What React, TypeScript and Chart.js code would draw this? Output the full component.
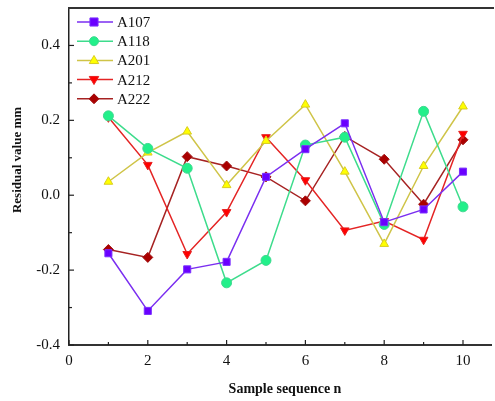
import React, { useEffect, useRef } from "react";
import { Chart, registerables } from "chart.js";

Chart.register(...registerables);

const samples = [1, 2, 3, 4, 5, 6, 7, 8, 9, 10];
const a107 = [-0.155, -0.309, -0.198, -0.178, 0.049, 0.123, 0.192, -0.072, -0.038, 0.063];
const a118 = [0.212, 0.125, 0.072, -0.234, -0.174, 0.134, 0.155, -0.078, 0.224, -0.031];
const a201 = [0.036, 0.114, 0.17, 0.027, 0.145, 0.242, 0.063, -0.13, 0.078, 0.237];
const a212 = [0.208, 0.081, -0.157, -0.045, 0.155, 0.04, -0.094, -0.069, -0.119, 0.164];
const a222 = [-0.145, -0.166, 0.103, 0.078, 0.049, -0.015, 0.157, 0.096, -0.024, 0.148];
const seriesNames = ["A107", "A118", "A201", "A212", "A222"];
const yTicks = [-0.4, -0.2, 0, 0.2, 0.4];
const yMinor = [-0.3, -0.1, 0.1, 0.3];
const xTicks = [0, 2, 4, 6, 8, 10];
const xMinor = [1, 3, 5, 7, 9];

const styles = [
  { line: "#7a2ef0", fill: "#6a00ff", border: "#7a30ff", shape: "rect", rot: 0 },
  { line: "#3ddc8c", fill: "#22f08a", border: "#40d890", shape: "circle", rot: 0 },
  { line: "#cfc448", fill: "#ffff00", border: "#d8cc20", shape: "triangle", rot: 0 },
  { line: "#e42424", fill: "#ff0000", border: "#e82020", shape: "triangle", rot: 180 },
  { line: "#a62222", fill: "#aa0000", border: "#a01010", shape: "rectRot", rot: 0 },
];

const serif = '"Liberation Serif", "Times New Roman", serif';

function drawMarker(ctx: CanvasRenderingContext2D, shape: string, rot: number, x: number, y: number, r: number, fill: string, stroke: string) {
  ctx.save();
  ctx.translate(x, y);
  ctx.rotate((rot * Math.PI) / 180);
  ctx.beginPath();
  if (shape === "rect") {
    ctx.rect(-r * 0.9, -r * 0.9, r * 1.8, r * 1.8);
  } else if (shape === "circle") {
    ctx.arc(0, 0, r, 0, Math.PI * 2);
  } else if (shape === "triangle") {
    ctx.moveTo(0, -r * 1.1);
    ctx.lineTo(r * 1.05, r * 0.7);
    ctx.lineTo(-r * 1.05, r * 0.7);
    ctx.closePath();
  } else if (shape === "rectRot") {
    ctx.moveTo(0, -r * 1.1);
    ctx.lineTo(r * 1.1, 0);
    ctx.lineTo(0, r * 1.1);
    ctx.lineTo(-r * 1.1, 0);
    ctx.closePath();
  }
  ctx.fillStyle = fill;
  ctx.fill();
  ctx.strokeStyle = stroke;
  ctx.lineWidth = 1;
  ctx.stroke();
  ctx.restore();
}

const decorPlugin = {
  id: "decor",
  afterDraw(chart: any) {
    const ctx: CanvasRenderingContext2D = chart.ctx;
    const xs = chart.scales.x;
    const ys = chart.scales.y;
    const area = chart.chartArea;
    const W = chart.width;
    ctx.save();
    // top border and bottom axis extended to the canvas edge
    ctx.fillStyle = "#333";
    ctx.fillRect(Math.round(area.left) - 1, Math.round(area.top) - 1, W - Math.round(area.left), 2);
    ctx.fillRect(Math.round(area.left) - 1, Math.round(area.bottom) - 1, W - 2 - Math.round(area.left), 2);
    // ticks
    ctx.strokeStyle = "#222";
    ctx.lineWidth = 1.2;
    const tick = (x1: number, y1: number, x2: number, y2: number) => {
      ctx.beginPath();
      ctx.moveTo(x1, y1);
      ctx.lineTo(x2, y2);
      ctx.stroke();
    };
    xTicks.forEach((v) => { const p = xs.getPixelForValue(v); tick(p, area.bottom, p, area.bottom - 5); });
    xMinor.forEach((v) => { const p = xs.getPixelForValue(v); tick(p, area.bottom, p, area.bottom - 3); });
    yTicks.forEach((v) => { const p = ys.getPixelForValue(v); tick(area.left, p, area.left + 5, p); });
    yMinor.forEach((v) => { const p = ys.getPixelForValue(v); tick(area.left, p, area.left + 3, p); });

    // legend
    chart.data.datasets.forEach((ds: any, i: number) => {
      const st = styles[i];
      const y = 22 + i * 19.2;
      ctx.strokeStyle = st.line;
      ctx.lineWidth = 1.5;
      ctx.beginPath();
      ctx.moveTo(77, y);
      ctx.lineTo(113, y);
      ctx.stroke();
      drawMarker(ctx, st.shape, st.rot, 94, y, 4.5, st.fill, st.border);
      ctx.fillStyle = "#111";
      ctx.font = `15px ${serif}`;
      ctx.textAlign = "left";
      ctx.textBaseline = "middle";
      ctx.fillText(ds.label, 117, y + 1);
    });

    // axis titles
    ctx.fillStyle = "#111";
    ctx.font = `bold 14px ${serif}`;
    ctx.textAlign = "center";
    ctx.textBaseline = "middle";
    ctx.fillText("Sample sequence n", 285, 389);
    ctx.save();
    ctx.translate(18, 160);
    ctx.rotate(-Math.PI / 2);
    ctx.font = `bold 13px ${serif}`;
    ctx.fillText("Residual value mm", 0, 0);
    ctx.restore();
    ctx.restore();
  },
};

export default function App() {
  const ref = useRef<HTMLCanvasElement | null>(null);
  useEffect(() => {
    if (!ref.current) return;
    const all = [a107, a118, a201, a212, a222];
    const chart = new Chart(ref.current, {
      type: "line",
      data: {
        datasets: all.map((vals, i) => ({
          label: seriesNames[i],
          data: samples.map((s, j) => ({ x: s, y: vals[j] })),
          borderColor: styles[i].line,
          borderWidth: 1.5,
          backgroundColor: styles[i].fill,
          pointBackgroundColor: styles[i].fill,
          pointBorderColor: styles[i].border,
          pointBorderWidth: 1,
          pointStyle: styles[i].shape as any,
          pointRotation: styles[i].rot,
          pointRadius: 5,
          tension: 0,
          fill: false,
        })),
      },
      options: {
        animation: false,
        responsive: false,
        layout: { padding: { top: 8, right: 1, left: 0, bottom: 0 } },
        plugins: { legend: { display: false }, tooltip: { enabled: false } },
        scales: {
          x: {
            type: "linear",
            min: 0,
            max: 10.66,
            afterBuildTicks: (s: any) => { s.ticks = xTicks.map((v) => ({ value: v })); },
            afterFit: (s: any) => { s.height = 56; s.paddingRight = 0; s.paddingLeft = 0; },
            grid: { display: false, drawTicks: false },
            border: { display: true, color: "#222", width: 1.5 },
            ticks: {
              color: "#111",
              font: { family: serif, size: 15 },
              padding: 7,
              maxRotation: 0,
              autoSkip: false,
              callback: (v: any) => String(v),
            },
          },
          xTop: {
            type: "linear",
            position: "top",
            display: true,
            min: 0,
            max: 10.66,
            afterFit: (s: any) => { s.height = 0; s.paddingRight = 0; s.paddingLeft = 0; },
            grid: { display: false, drawTicks: false },
            border: { display: true, color: "#333", width: 2 },
            ticks: { display: false },
          },
          y: {
            type: "linear",
            min: -0.4,
            max: 0.5,
            afterBuildTicks: (s: any) => { s.ticks = yTicks.map((v) => ({ value: v })); },
            afterFit: (s: any) => { s.width = 69; s.paddingTop = 0; s.paddingBottom = 0; },
            grid: { display: false, drawTicks: false },
            border: { display: true, color: "#222", width: 1.5 },
            ticks: {
              color: "#111",
              font: { family: serif, size: 15 },
              padding: 9,
              autoSkip: false,
              callback: (v: any) => Number(v).toFixed(1),
            },
          },
        },
      },
      plugins: [decorPlugin],
    });
    return () => chart.destroy();
  }, []);
  return (
    <div style={{ position: "fixed", left: 0, top: 0, width: 495, height: 401, background: "#fff" }}>
      <canvas ref={ref} width={495} height={401} style={{ width: 495, height: 401 }} />
    </div>
  );
}
